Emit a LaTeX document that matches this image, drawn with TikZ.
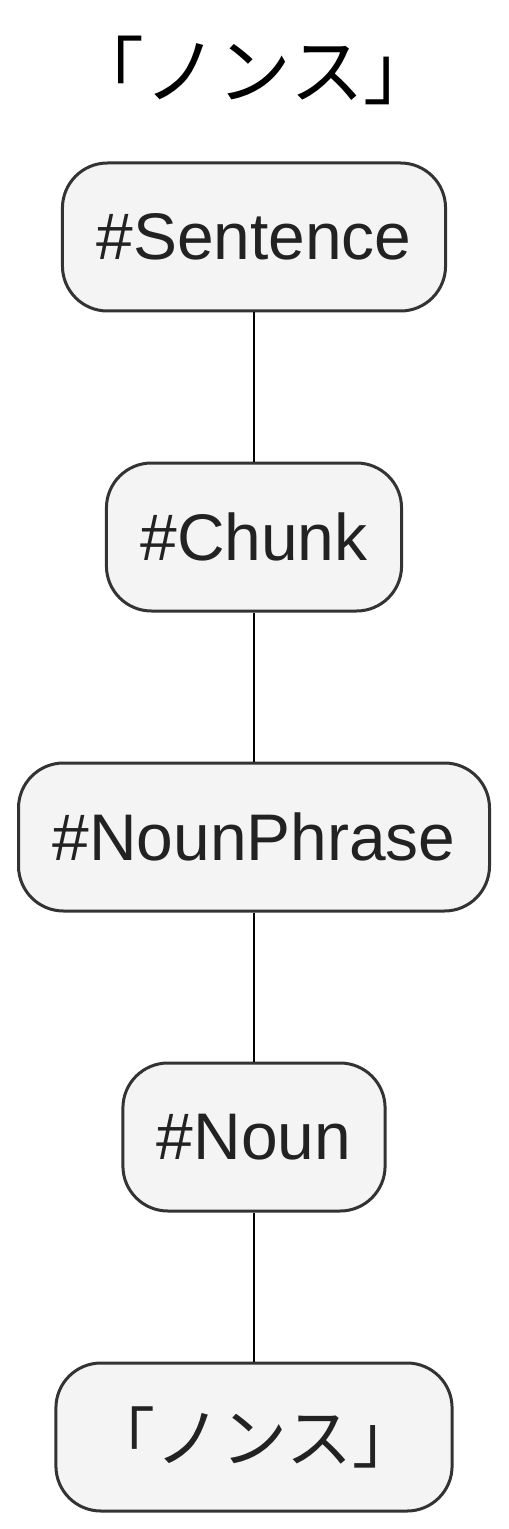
\documentclass[tikz,border=0pt]{standalone}
\usepackage{fontspec}
\setmainfont{Liberation Sans}
\newfontfamily\jpfont{Noto Sans CJK JP}
\usetikzlibrary{positioning}
\definecolor{colBord}{RGB}{51,51,51}
\definecolor{colFond}{RGB}{244,244,244}
\definecolor{colTexte}{RGB}{34,34,34}
\begin{document}
\begin{tikzpicture}[font=\fontsize{37.5}{40}\selectfont,
    n/.style={rectangle, rounded corners=0.9cm, draw=colBord, fill=colFond,
      line width=0.06cm, text=colTexte, minimum height=2.96cm,
      inner xsep=0.68cm},
    ln/.style={line width=0.055cm, black}]
    \useasboundingbox (0,0) rectangle (10.16,-30.58);
    \node (titre) at (5.08,-1.4) {\jpfont\fontsize{42}{46}\selectfont 「ノンス」};
    \node[n] (sent) at (5.08,-4.74) {\#Sentence};
    \node[n, below=2.98cm of sent] (chunk) {\#Chunk};
    \node[n, below=2.98cm of chunk] (np) {\#NounPhrase};
    \node[n, below=2.98cm of np] (noun) {\#Noun};
    \node[n, below=2.98cm of noun] (mot) {\jpfont 「ノンス」};
    \draw[ln] (sent)--(chunk); \draw[ln] (chunk)--(np);
    \draw[ln] (np)--(noun); \draw[ln] (noun)--(mot);
  \end{tikzpicture}
\end{document}
